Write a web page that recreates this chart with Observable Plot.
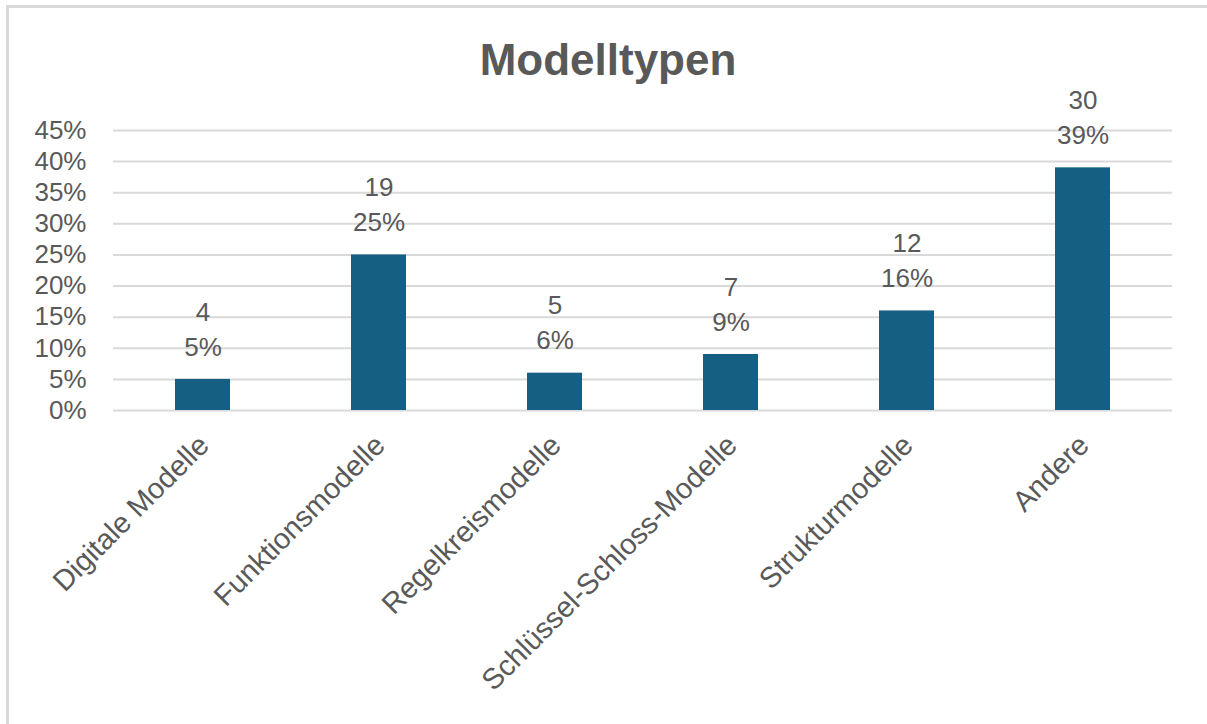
<!DOCTYPE html>
<html>
<head>
<meta charset="utf-8">
<script src="https://cdn.jsdelivr.net/npm/d3@7"></script>
<script src="https://cdn.jsdelivr.net/npm/@observablehq/plot@0.6"></script>
<style>
  html, body { margin: 0; padding: 0; background: #fff; overflow: hidden; width: 1207px; height: 724px; }
  #frame { position: absolute; left: 6px; top: 5px; width: 1220px; height: 740px; border: 3px solid #d9d9d9; box-sizing: border-box; }
  #title { position: absolute; left: 0; width: 1216px; top: 35px; text-align: center; font-family: "Liberation Sans", Arial, sans-serif; font-weight: bold; font-size: 44px; color: #595959; line-height: 50px; }
  #chart { position: absolute; left: 0; top: 60px; }
</style>
</head>
<body>
<div id="frame"></div>
<div id="title">Modelltypen</div>
<div id="chart"></div>
<script>
const categories = ["Digitale Modelle", "Funktionsmodelle", "Regelkreismodelle", "Schlüssel-Schloss-Modelle", "Strukturmodelle", "Andere"];
const counts = [4, 19, 5, 7, 12, 30];
const shares = [0.05, 0.25, 0.06, 0.09, 0.16, 0.39];
const yTicks = [0, 0.05, 0.10, 0.15, 0.20, 0.25, 0.30, 0.35, 0.40, 0.45];

const data = categories.map((c, i) => ({category: c, count: counts[i], share: shares[i]}));
const gray = "#595959";
const font = "'Liberation Sans', Arial, sans-serif";
const pct = d3.format(".0%");

const chart = Plot.plot({
  width: 1207,
  height: 664,
  marginTop: 70,
  marginBottom: 314,
  marginLeft: 113,
  marginRight: 35,
  style: {fontFamily: font, color: gray, background: "transparent"},
  x: {domain: categories, paddingInner: 0.69, paddingOuter: 0.345, axis: null},
  y: {domain: [0, 0.45], axis: null},
  marks: [
    Plot.gridY(yTicks, {stroke: "#d9d9d9", strokeOpacity: 1, strokeWidth: 2}),
    Plot.axisY({ticks: yTicks, tickFormat: pct, tickSize: 0, tickPadding: 27, fontSize: 26, fill: gray, label: null}),
    Plot.barY(data, {x: "category", y: "share", fill: "#156082"}),
    Plot.text(data, {x: "category", y: "share", text: d => pct(d.share), dy: -32, lineAnchor: "middle", fontSize: 26, fill: gray}),
    Plot.text(data, {x: "category", y: "share", text: d => String(d.count), dy: -67, lineAnchor: "middle", fontSize: 26, fill: gray}),
    Plot.text(data, {x: "category", text: "category", frameAnchor: "bottom", rotate: -45, textAnchor: "end", lineAnchor: "top", dx: -7, dy: 22, fontSize: 29, fill: gray})
  ]
});
document.getElementById("chart").appendChild(chart);
</script>
</body>
</html>
